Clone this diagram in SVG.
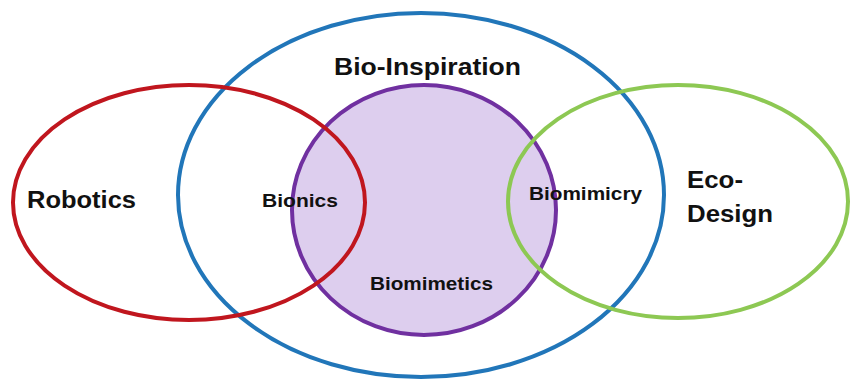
<svg xmlns="http://www.w3.org/2000/svg" width="850" height="380" viewBox="0 0 850 380">
  <style>
    .ring { fill: none; stroke-width: 4; }
    .lbl { font-family: "Liberation Sans", Arial, sans-serif; font-weight: bold; fill: #111111; }
    .big { font-size: 23px; }
    .small { font-size: 19px; }
  </style>
  <rect x="0" y="0" width="850" height="380" fill="#ffffff"/>
  <g id="biomimetics">
    <ellipse cx="424" cy="210" rx="132" ry="125" fill="#DDCEEE" stroke="#7030A0" stroke-width="4"/>
  </g>
  <g id="bio-inspiration">
    <ellipse class="ring" cx="421" cy="195" rx="243" ry="182" stroke="#2176B9"/>
  </g>
  <g id="robotics">
    <ellipse class="ring" cx="189" cy="202.5" rx="176" ry="117.5" stroke="#C0161E"/>
  </g>
  <g id="eco-design">
    <ellipse class="ring" cx="678" cy="201.5" rx="170" ry="116.5" stroke="#8DC853"/>
  </g>
  <g id="labels">
    <text class="lbl big" x="27" y="208" textLength="109" lengthAdjust="spacingAndGlyphs">Robotics</text>
    <text class="lbl big" x="334" y="75" textLength="187" lengthAdjust="spacingAndGlyphs">Bio-Inspiration</text>
    <text class="lbl small" x="262" y="207" textLength="76" lengthAdjust="spacingAndGlyphs">Bionics</text>
    <text class="lbl small" x="529" y="200" textLength="113" lengthAdjust="spacingAndGlyphs">Biomimicry</text>
    <text class="lbl small" x="370" y="290" textLength="123" lengthAdjust="spacingAndGlyphs">Biomimetics</text>
    <text class="lbl big" x="687" y="188" textLength="56" lengthAdjust="spacingAndGlyphs">Eco-</text>
    <text class="lbl big" x="687" y="222" textLength="86" lengthAdjust="spacingAndGlyphs">Design</text>
  </g>
</svg>
